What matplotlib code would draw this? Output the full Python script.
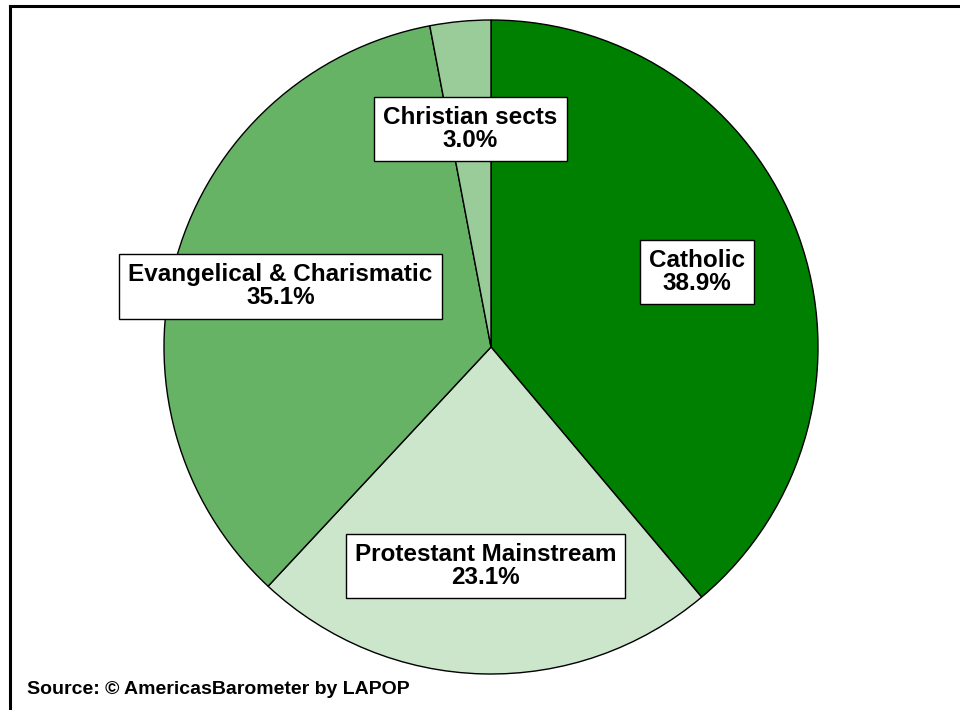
import numpy as np
import matplotlib
matplotlib.use("Agg")
import matplotlib.pyplot as plt
from matplotlib.lines import Line2D

categories = ["Catholic", "Protestant Mainstream", "Evangelical & Charismatic", "Christian sects"]
shares = [38.9, 23.1, 35.1, 3.0]
colors = ["#008000", "#cce6cc", "#66b366", "#99cc99"]
source = "Source: \u00a9 AmericasBarometer by LAPOP"

plt.rcParams["font.family"] = ["Liberation Sans", "DejaVu Sans"]

W, H = 960, 710
fig = plt.figure(figsize=(W / 100, H / 100), dpi=100)

# pie centre and radius in pixels
cx, cy, r = 491, 347, 327
ax = fig.add_axes([(cx - r) / W, (H - cy - r) / H, 2 * r / W, 2 * r / H])
wedges, _ = ax.pie(shares, colors=colors, startangle=90, counterclock=False,
                   wedgeprops=dict(edgecolor="black", linewidth=1.0))
ax.set_xlim(-1, 1)
ax.set_ylim(-1, 1)
ax.set_aspect("equal")
ax.axis("off")

for w, name, val in zip(wedges, categories, shares):
    mid = np.deg2rad((w.theta1 + w.theta2) / 2)
    x, y = 0.67 * np.cos(mid), 0.67 * np.sin(mid)
    ax.text(x, y, f"{name}\n{val:.1f}%", ha="center", va="center",
            fontsize=17.5, fontweight="bold", linespacing=1.0,
            bbox=dict(boxstyle="square,pad=0.38", facecolor="white",
                      edgecolor="black", linewidth=1.0))

# outer frame (left and top edges visible)
fig.add_artist(Line2D([10 / W, 10 / W], [0, 1 - 6 / H], transform=fig.transFigure,
                      color="black", linewidth=2.2))
fig.add_artist(Line2D([10 / W, 1], [1 - 6 / H, 1 - 6 / H], transform=fig.transFigure,
                      color="black", linewidth=2.2))

fig.text(27 / W, 1 - 690 / H, source, ha="left", va="center",
         fontsize=14, fontweight="bold")

fig.savefig("out.png", dpi=100, facecolor="white")
